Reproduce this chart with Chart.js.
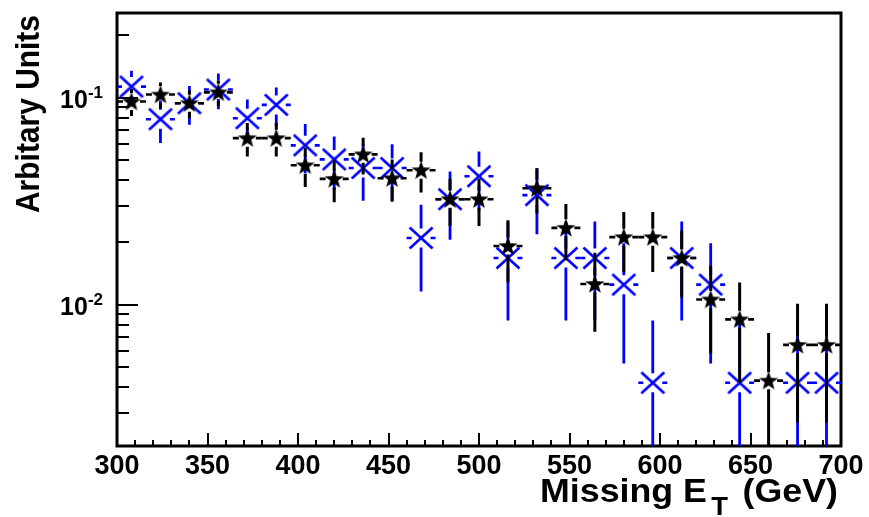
<!DOCTYPE html>
<html>
<head>
<meta charset="utf-8">
<script src="https://cdn.jsdelivr.net/npm/chart.js@4.4.1/dist/chart.umd.min.js"></script>
<style>
  html, body { margin: 0; padding: 0; background: #ffffff; }
  #wrap { width: 869px; height: 517px; position: relative; }
</style>
</head>
<body>
<div id="wrap"><canvas id="chart" width="869" height="517"></canvas></div>
<script>
// ---------------- data ----------------
const binCenters = [308, 324, 340, 356, 372, 388, 404, 420, 436, 452, 468, 484, 500,
                    516, 532, 548, 564, 580, 596, 612, 628, 644, 660, 676, 692];
const binHalfWidth = 8;

// black filled stars
const starValues = [0.0957, 0.1034, 0.0939, 0.1060, 0.0637, 0.0637, 0.0471, 0.0405, 0.0532,
                    0.0408, 0.0446, 0.0323, 0.0323, 0.0192, 0.0365, 0.0235, 0.0126, 0.0212,
                    0.0212, 0.0168, 0.0106, 0.0085, 0.0043, 0.0064, 0.0064];
const starErrors = [0.0143, 0.0149, 0.0142, 0.0151, 0.0117, 0.0117, 0.0101, 0.0093, 0.0107,
                    0.0094, 0.0098, 0.0083, 0.0083, 0.0064, 0.0089, 0.0071, 0.0052, 0.0068,
                    0.0068, 0.0060, 0.0048, 0.0043, 0.0030, 0.0037, 0.0037];

// blue crosses
const crossValues = [0.1130, 0.0786, 0.0939, 0.1093, 0.0795, 0.0922, 0.0588, 0.0503, 0.0457,
                     0.0457, 0.0210, 0.0323, 0.0417, 0.0168, 0.0338, 0.0168, 0.0168, 0.0125,
                     0.0042, 0.0168, 0.0125, 0.0042, null, 0.0042, 0.0042];
const crossErrors = [0.0218, 0.0182, 0.0199, 0.0214, 0.0183, 0.0197, 0.0157, 0.0145, 0.0139,
                     0.0139, 0.0094, 0.0117, 0.0132, 0.0084, 0.0119, 0.0084, 0.0084, 0.0073,
                     0.0042, 0.0084, 0.0073, 0.0042, null, 0.0042, 0.0042];

// axes
const xMin = 300, xMax = 700;
const yMin = 0.00208, yMax = 0.256;
const xTickLabels = ['300', '350', '400', '450', '500', '550', '600', '650', '700'];
const yMajorTickValues = [0.1, 0.01];
const yTickExponents = ['-1', '-2'];
const yMinorTickValues = [0.003, 0.004, 0.005, 0.006, 0.007, 0.008, 0.009,
                          0.02, 0.03, 0.04, 0.05, 0.06, 0.07, 0.08, 0.09, 0.2];
const xAxisTitle = ['Missing E', 'T', '(GeV)'];
const yAxisTitle = 'Arbitary Units';

// ---------------- marker images ----------------
const FONT = '"Liberation Sans", Arial, Helvetica, sans-serif';
const BLUE = '#0000ff';

function makeStar() {
  const c = document.createElement('canvas');
  c.width = 22; c.height = 22;
  const g = c.getContext('2d');
  const R = 10, r = 4.1, cx = 11, cy = 11.6;
  g.beginPath();
  for (let k = 0; k < 10; k++) {
    const rad = -Math.PI / 2 + k * Math.PI / 5;
    const rr = k % 2 === 0 ? R : r;
    const px = cx + rr * Math.cos(rad), py = cy + rr * Math.sin(rad);
    if (k === 0) g.moveTo(px, py); else g.lineTo(px, py);
  }
  g.closePath();
  g.fillStyle = '#000000';
  g.fill();
  return c;
}
function makeCross() {
  const c = document.createElement('canvas');
  c.width = 28; c.height = 26;
  const g = c.getContext('2d');
  g.strokeStyle = BLUE;
  g.lineWidth = 2.6;
  g.beginPath();
  g.moveTo(14 - 11.5, 13 - 10.5); g.lineTo(14 + 11.5, 13 + 10.5);
  g.moveTo(14 - 11.5, 13 + 10.5); g.lineTo(14 + 11.5, 13 - 10.5);
  g.stroke();
  return c;
}

// ---------------- plugins ----------------
const errorSets = [starErrors, crossErrors];
const errorStyle = [
  { color: '#000000', gap: 8.5, vWidth: 3, hWidth: 2.6 },
  { color: BLUE, gap: 9.5, vWidth: 2.8, hWidth: 2.6 }
];

const errorBarPlugin = {
  id: 'errorBars',
  beforeDatasetDraw(chart, args) {
    const i = args.index;
    const ds = chart.data.datasets[i];
    const errs = errorSets[i];
    const st = errorStyle[i];
    const xs = chart.scales.x, ys = chart.scales.y;
    const a = chart.chartArea;
    const ctx = chart.ctx;
    ctx.save();
    ctx.beginPath();
    ctx.rect(a.left, a.top, a.right - a.left, a.bottom - a.top);
    ctx.clip();
    ctx.strokeStyle = st.color;
    ds.data.forEach((p, k) => {
      if (p.y == null) return;
      const e = errs[k];
      const cx = xs.getPixelForValue(p.x);
      const cy = ys.getPixelForValue(p.y);
      const xl = xs.getPixelForValue(p.x - binHalfWidth);
      const xr = xs.getPixelForValue(p.x + binHalfWidth);
      const yt = ys.getPixelForValue(p.y + e);
      const lo = p.y - e;
      const yb = lo > ys.min ? ys.getPixelForValue(lo) : a.bottom + 3;
      ctx.lineWidth = st.vWidth;
      ctx.beginPath();
      if (yt < cy - st.gap) { ctx.moveTo(cx, yt); ctx.lineTo(cx, cy - st.gap); }
      if (yb > cy + st.gap) { ctx.moveTo(cx, cy + st.gap); ctx.lineTo(cx, yb); }
      ctx.stroke();
      ctx.lineWidth = st.hWidth;
      ctx.beginPath();
      ctx.moveTo(xl, cy); ctx.lineTo(cx - st.gap, cy);
      ctx.moveTo(cx + st.gap, cy); ctx.lineTo(xr, cy);
      ctx.stroke();
    });
    ctx.restore();
  }
};

const framePlugin = {
  id: 'frame',
  beforeDatasetsDraw(chart) {
    const a = chart.chartArea;
    const ctx = chart.ctx;
    const xs = chart.scales.x, ys = chart.scales.y;
    ctx.save();
    ctx.strokeStyle = '#000000';
    ctx.lineWidth = 2;
    ctx.beginPath();
    yMajorTickValues.forEach(v => {
      const y = Math.round(ys.getPixelForValue(v));
      ctx.moveTo(a.left, y); ctx.lineTo(a.left + 21, y);
    });
    yMinorTickValues.forEach(v => {
      const y = Math.round(ys.getPixelForValue(v));
      ctx.moveTo(a.left, y); ctx.lineTo(a.left + 12, y);
    });
    ctx.stroke();
    ctx.beginPath();
    xs.ticks.forEach(t => {
      const x = Math.round(xs.getPixelForValue(t.value));
      const major = xTickLabels.includes(String(t.value));
      ctx.moveTo(x, a.bottom); ctx.lineTo(x, a.bottom - (major ? 13 : 6));
    });
    ctx.stroke();
    ctx.lineWidth = 3;
    ctx.strokeRect(a.left, a.top, a.right - a.left, a.bottom - a.top);
    ctx.restore();
  },
  afterDraw(chart) {
    const ctx = chart.ctx;
    const a = chart.chartArea;
    const ys = chart.scales.y;
    ctx.save();
    ctx.fillStyle = '#000000';
    // y tick labels 10^-n
    yMajorTickValues.forEach((v, k) => {
      const y = ys.getPixelForValue(v);
      const right = 103;
      ctx.textAlign = 'right';
      ctx.textBaseline = 'alphabetic';
      ctx.font = 'bold 17px ' + FONT;
      const ew = ctx.measureText(yTickExponents[k]).width;
      ctx.fillText(yTickExponents[k], right, y);
      ctx.font = 'bold 25px ' + FONT;
      ctx.fillText('10', right - ew, y + 10);
    });
    // y axis title (slightly condensed along its length)
    ctx.save();
    ctx.font = 'bold 33px ' + FONT;
    const tw = ctx.measureText(yAxisTitle).width;
    ctx.translate(39, a.top + 2);
    ctx.rotate(-Math.PI / 2);
    ctx.scale(198 / tw, 1);
    ctx.textAlign = 'right';
    ctx.textBaseline = 'alphabetic';
    ctx.fillText(yAxisTitle, 0, 0);
    ctx.restore();
    // x axis title with subscript
    const bigFont = 'bold 34px ' + FONT, subFont = 'bold 26px ' + FONT;
    ctx.textAlign = 'left';
    ctx.textBaseline = 'alphabetic';
    ctx.font = bigFont;
    const w1 = ctx.measureText(xAxisTitle[0]).width;
    const w3 = ctx.measureText(xAxisTitle[2]).width;
    ctx.font = subFont;
    const w2 = ctx.measureText(xAxisTitle[1]).width;
    const gapA = 4, gapB = 14;
    const total = w1 + gapA + w2 + gapB + w3;
    const rightEdge = 838, leftEdge = 540;
    const sx = (rightEdge - leftEdge) / total;
    ctx.save();
    ctx.translate(leftEdge, 502);
    ctx.scale(sx, 1);
    ctx.font = bigFont;
    ctx.fillText(xAxisTitle[0], 0, 0);
    ctx.font = subFont;
    ctx.fillText(xAxisTitle[1], w1 + gapA, 13);
    ctx.font = bigFont;
    ctx.fillText(xAxisTitle[2], w1 + gapA + w2 + gapB, 0);
    ctx.restore();
    ctx.restore();
  }
};

// ---------------- chart ----------------
const starPoints = binCenters.map((x, i) => ({ x: x, y: starValues[i] }));
const crossPoints = binCenters.map((x, i) => ({ x: x, y: crossValues[i] }));

new Chart(document.getElementById('chart'), {
  type: 'scatter',
  data: {
    datasets: [
      {
        label: 'stars',
        data: starPoints,
        pointStyle: makeStar(),
        pointRadius: 10,
        showLine: false,
        order: 0
      },
      {
        label: 'crosses',
        data: crossPoints,
        pointStyle: makeCross(),
        pointRadius: 12,
        showLine: false,
        order: 1
      }
    ]
  },
  options: {
    responsive: false,
    animation: false,
    devicePixelRatio: 1,
    layout: { padding: { left: 0, top: 11, right: 28, bottom: 0 } },
    plugins: { legend: { display: false }, tooltip: { enabled: false }, title: { display: false } },
    scales: {
      x: {
        type: 'linear',
        min: xMin, max: xMax,
        grid: { display: false, drawTicks: false },
        border: { display: false },
        ticks: {
          stepSize: 10,
          autoSkip: false,
          maxRotation: 0,
          padding: 4,
          color: '#000000',
          font: { family: FONT, size: 27, weight: 'bold' },
          callback: (v) => xTickLabels.includes(String(v)) ? String(v) : ''
        },
        afterFit: (s) => { s.height = 71; }
      },
      y: {
        type: 'logarithmic',
        min: yMin, max: yMax,
        grid: { display: false, drawTicks: false },
        border: { display: false },
        ticks: { display: false },
        afterFit: (s) => { s.width = 117; }
      }
    }
  },
  plugins: [errorBarPlugin, framePlugin]
});
</script>
</body>
</html>
